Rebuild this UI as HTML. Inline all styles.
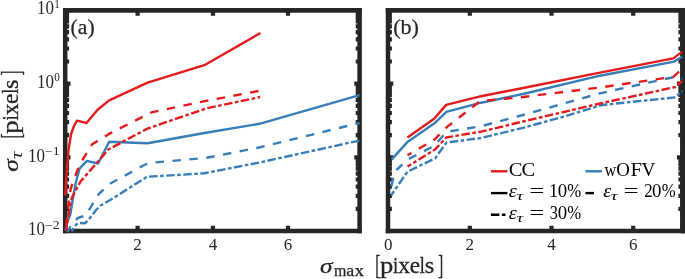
<!DOCTYPE html>
<html><head><meta charset="utf-8"><title>plot</title>
<style>html,body{margin:0;padding:0;background:#fff;overflow:hidden}svg{display:block;will-change:transform}text{font-family:"Liberation Serif",serif}</style>
</head><body>
<svg width="685" height="279" viewBox="0 0 685 279">
<rect width="685" height="279" fill="#fff"/>
<path d="M62.95 10.3H361.85" stroke="#262626" stroke-width="4.7" fill="none"/>
<path d="M62.95 231.0H361.85" stroke="#262626" stroke-width="4.4" fill="none"/>
<path d="M65.2 7.950000000000001V233.2M359.6 7.950000000000001V233.2" stroke="#262626" stroke-width="4.5" fill="none"/>
<path d="M137.6 231.0V225.7M137.6 10.0V15.8M213.0 231.0V225.7M213.0 10.0V15.8M288.0 231.0V225.7M288.0 10.0V15.8M65.2 10.00H70.5M359.6 10.00H354.3M65.2 83.67H70.5M359.6 83.67H354.3M65.2 157.33H70.5M359.6 157.33H354.3M65.2 231.00H70.5M359.6 231.00H354.3" stroke="#262626" stroke-width="4.2" fill="none"/>
<path d="M65.2 61.49H69.10000000000001M359.6 61.49H355.70000000000005M65.2 48.52H69.10000000000001M359.6 48.52H355.70000000000005M65.2 39.31H69.10000000000001M359.6 39.31H355.70000000000005M65.2 32.18H69.10000000000001M359.6 32.18H355.70000000000005M65.2 26.34H69.10000000000001M359.6 26.34H355.70000000000005M65.2 21.41H69.10000000000001M359.6 21.41H355.70000000000005M65.2 17.14H69.10000000000001M359.6 17.14H355.70000000000005M65.2 13.37H69.10000000000001M359.6 13.37H355.70000000000005M65.2 135.16H69.10000000000001M359.6 135.16H355.70000000000005M65.2 122.19H69.10000000000001M359.6 122.19H355.70000000000005M65.2 112.98H69.10000000000001M359.6 112.98H355.70000000000005M65.2 105.84H69.10000000000001M359.6 105.84H355.70000000000005M65.2 100.01H69.10000000000001M359.6 100.01H355.70000000000005M65.2 95.08H69.10000000000001M359.6 95.08H355.70000000000005M65.2 90.81H69.10000000000001M359.6 90.81H355.70000000000005M65.2 87.04H69.10000000000001M359.6 87.04H355.70000000000005M65.2 208.82H69.10000000000001M359.6 208.82H355.70000000000005M65.2 195.85H69.10000000000001M359.6 195.85H355.70000000000005M65.2 186.65H69.10000000000001M359.6 186.65H355.70000000000005M65.2 179.51H69.10000000000001M359.6 179.51H355.70000000000005M65.2 173.68H69.10000000000001M359.6 173.68H355.70000000000005M65.2 168.74H69.10000000000001M359.6 168.74H355.70000000000005M65.2 164.47H69.10000000000001M359.6 164.47H355.70000000000005M65.2 160.70H69.10000000000001M359.6 160.70H355.70000000000005" stroke="#262626" stroke-width="4.2" fill="none"/>
<path d="M385.75 10.3H684.55" stroke="#262626" stroke-width="4.7" fill="none"/>
<path d="M385.75 231.0H684.55" stroke="#262626" stroke-width="4.4" fill="none"/>
<path d="M388.0 7.950000000000001V233.2M682.3 7.950000000000001V233.2" stroke="#262626" stroke-width="4.5" fill="none"/>
<path d="M469.8 231.0V225.7M469.8 10.0V15.8M551.5 231.0V225.7M551.5 10.0V15.8M633.2 231.0V225.7M633.2 10.0V15.8M388.0 10.00H393.3M682.3 10.00H677.0M388.0 83.67H393.3M682.3 83.67H677.0M388.0 157.33H393.3M682.3 157.33H677.0M388.0 231.00H393.3M682.3 231.00H677.0" stroke="#262626" stroke-width="4.2" fill="none"/>
<path d="M388.0 61.49H391.9M682.3 61.49H678.4M388.0 48.52H391.9M682.3 48.52H678.4M388.0 39.31H391.9M682.3 39.31H678.4M388.0 32.18H391.9M682.3 32.18H678.4M388.0 26.34H391.9M682.3 26.34H678.4M388.0 21.41H391.9M682.3 21.41H678.4M388.0 17.14H391.9M682.3 17.14H678.4M388.0 13.37H391.9M682.3 13.37H678.4M388.0 135.16H391.9M682.3 135.16H678.4M388.0 122.19H391.9M682.3 122.19H678.4M388.0 112.98H391.9M682.3 112.98H678.4M388.0 105.84H391.9M682.3 105.84H678.4M388.0 100.01H391.9M682.3 100.01H678.4M388.0 95.08H391.9M682.3 95.08H678.4M388.0 90.81H391.9M682.3 90.81H678.4M388.0 87.04H391.9M682.3 87.04H678.4M388.0 208.82H391.9M682.3 208.82H678.4M388.0 195.85H391.9M682.3 195.85H678.4M388.0 186.65H391.9M682.3 186.65H678.4M388.0 179.51H391.9M682.3 179.51H678.4M388.0 173.68H391.9M682.3 173.68H678.4M388.0 168.74H391.9M682.3 168.74H678.4M388.0 164.47H391.9M682.3 164.47H678.4M388.0 160.70H391.9M682.3 160.70H678.4" stroke="#262626" stroke-width="4.2" fill="none"/>
<rect x="682" y="7.950000000000001" width="3" height="225.25" fill="#262626"/>
<path d="M65.5 231 L67.4 221.5 L70.3 214.5 L72.8 199 L74.4 190 L75.7 183 L79.7 168.3 L86.9 160.8 L98.1 163.5 L109.2 141.7 L147.5 143.3 L204.5 133.0 L259.4 123.8 L359.6 95.1" fill="none" stroke="#377eb8" stroke-width="2.4" stroke-linejoin="round"/>
<path d="M67.5 232 L72 223.2 L78 218 L85.7 215.3 L90.3 208 L94.1 201.6 L98.9 193.9 L109.5 184 L148 163 L206.7 157.8 L259 147.5 L359.6 123.0" fill="none" stroke="#377eb8" stroke-width="2.4" stroke-linejoin="round" stroke-dasharray="8.5 8.5" stroke-dashoffset="1.99"/>
<path d="M71.5 231.5 L76.4 224.4 L78.3 223 L85.1 223.3 L90.3 217.6 L96.1 210 L100.6 205.5 L110.2 200 L147 176.8 L204.2 173.3 L259.5 162.5 L359.6 140.5" fill="none" stroke="#377eb8" stroke-width="2.4" stroke-linejoin="round" stroke-dasharray="8.5 2.5 3.6 2.5" stroke-dashoffset="4.46"/>
<path d="M65.4 195.6 L65.8 185 L66.8 170 L68.5 150 L71.1 134.0 L74 125.8 L77 120.7 L86.5 123 L97.6 109.8 L109.2 100.4 L147.6 82.7 L204.3 65.2 L260.4 33.0" fill="none" stroke="#e41a1c" stroke-width="2.4" stroke-linejoin="round"/>
<path d="M65.5 231 L68.5 205 L70.6 189.5 L72.8 182.5 L79.4 165 L92.2 144.2 L110 133.4 L151.6 112.3 L204.7 101.2 L258.9 90.9" fill="none" stroke="#e41a1c" stroke-width="2.4" stroke-linejoin="round" stroke-dasharray="8.5 8.5" stroke-dashoffset="11.79"/>
<path d="M66 231 L70 205 L71.9 197.8 L75.7 190.4 L80.7 181.3 L95 165 L108.3 149.5 L147.5 128.6 L206.7 108.3 L260.1 97.0" fill="none" stroke="#e41a1c" stroke-width="2.4" stroke-linejoin="round" stroke-dasharray="8.5 2.5 3.6 2.5" stroke-dashoffset="2.95"/>
<path d="M391.8 159.4 L407.5 141.9 L434.1 123.6 L446.4 111.8 L481 102.7 L523 94.0 L600 75.7 L674.2 61.6 L682.3 56.6" fill="none" stroke="#377eb8" stroke-width="2.4" stroke-linejoin="round"/>
<path d="M391.5 186 L394.5 172 L407.5 159.5 L434.1 146 L446.4 131.9 L481.1 126.2 L523 115.0 L600 93.3 L673.3 77.2 L682.3 78.9" fill="none" stroke="#377eb8" stroke-width="2.4" stroke-linejoin="round" stroke-dasharray="8.5 8.5" stroke-dashoffset="0.12"/>
<path d="M391.2 195.2 L407.5 171.7 L435.1 158.4 L446.4 142.6 L481 138.0 L523 127.8 L565 116.3 L602 105.0 L675.4 97.4 L682.3 90.9" fill="none" stroke="#377eb8" stroke-width="2.4" stroke-linejoin="round" stroke-dasharray="8.5 2.5 3.6 2.5" stroke-dashoffset="3.51"/>
<path d="M407.5 137.4 L434.1 118.7 L446.2 104.9 L481.1 96.2 L523 88.0 L600 72.6 L673.3 58.4 L682.3 51.6" fill="none" stroke="#e41a1c" stroke-width="2.4" stroke-linejoin="round"/>
<path d="M407.5 155.3 L434.1 139.9 L447.4 126.6 L480.3 101 L523 97.0 L600 87.5 L673.3 76.8 L682.3 68.8" fill="none" stroke="#e41a1c" stroke-width="2.4" stroke-linejoin="round" stroke-dasharray="8.5 8.5" stroke-dashoffset="3.99"/>
<path d="M407.5 166.6 L435.1 149.4 L446.4 137.4 L481 131.7 L523 121.5 L600 103.5 L675.4 87 L682.3 81" fill="none" stroke="#e41a1c" stroke-width="2.4" stroke-linejoin="round" stroke-dasharray="8.5 2.5 3.6 2.5" stroke-dashoffset="4.16"/>
<text x="137.6" y="249.5" font-size="17" text-anchor="middle" fill="#262626">2</text>
<text x="213.0" y="249.5" font-size="17" text-anchor="middle" fill="#262626">4</text>
<text x="288.0" y="249.5" font-size="17" text-anchor="middle" fill="#262626">6</text>
<text x="388.2" y="249.5" font-size="17" text-anchor="middle" fill="#262626">0</text>
<text x="469.8" y="249.5" font-size="17" text-anchor="middle" fill="#262626">2</text>
<text x="551.5" y="249.5" font-size="17" text-anchor="middle" fill="#262626">4</text>
<text x="633.2" y="249.5" font-size="17" text-anchor="middle" fill="#262626">6</text>
<text x="37.0" y="14.3" font-size="18" text-anchor="start" fill="#262626" textLength="17" lengthAdjust="spacingAndGlyphs">10</text>
<text x="54.2" y="7.8" font-size="11.5" text-anchor="start" fill="#262626" textLength="5.6" lengthAdjust="spacingAndGlyphs">1</text>
<text x="37.0" y="87.96666666666667" font-size="18" text-anchor="start" fill="#262626" textLength="17" lengthAdjust="spacingAndGlyphs">10</text>
<text x="54.2" y="81.46666666666667" font-size="11.5" text-anchor="start" fill="#262626" textLength="5.6" lengthAdjust="spacingAndGlyphs">0</text>
<text x="27.9" y="161.63333333333335" font-size="18" text-anchor="start" fill="#262626" textLength="17" lengthAdjust="spacingAndGlyphs">10</text>
<text x="44.8" y="155.13333333333335" font-size="11.5" text-anchor="start" fill="#262626" textLength="14.8" lengthAdjust="spacingAndGlyphs">−1</text>
<text x="27.9" y="235.3" font-size="18" text-anchor="start" fill="#262626" textLength="17" lengthAdjust="spacingAndGlyphs">10</text>
<text x="44.8" y="228.8" font-size="11.5" text-anchor="start" fill="#262626" textLength="14.8" lengthAdjust="spacingAndGlyphs">−2</text>
<text x="70.6" y="34" font-size="22" text-anchor="start" fill="#262626" textLength="24" lengthAdjust="spacingAndGlyphs" stroke="#262626" stroke-width="0.25">(a)</text>
<text x="393.2" y="34" font-size="22" text-anchor="start" fill="#262626" textLength="25.8" lengthAdjust="spacingAndGlyphs" stroke="#262626" stroke-width="0.25">(b)</text>
<text x="320.14" y="272.5" font-size="22" fill="#262626" font-style="italic" stroke="#262626" stroke-width="0.25" textLength="12.55" lengthAdjust="spacingAndGlyphs">σ</text>
<text x="333.97" y="275.9" font-size="16" fill="#262626" stroke="#262626" stroke-width="0.25" textLength="12.38" lengthAdjust="spacingAndGlyphs">m</text><text x="346.17" y="275.9" font-size="16" fill="#262626" stroke="#262626" stroke-width="0.25" textLength="7.98" lengthAdjust="spacingAndGlyphs">a</text><text x="354.43" y="275.9" font-size="16" fill="#262626" stroke="#262626" stroke-width="0.25" textLength="9.60" lengthAdjust="spacingAndGlyphs">x</text>
<text x="379.97" y="272.5" font-size="23" fill="#262626" stroke="#262626" stroke-width="0.3" textLength="13.26" lengthAdjust="spacingAndGlyphs">p</text><text x="393.00" y="272.5" font-size="23" fill="#262626" stroke="#262626" stroke-width="0.3" textLength="5.26" lengthAdjust="spacingAndGlyphs">i</text><text x="398.39" y="272.5" font-size="23" fill="#262626" stroke="#262626" stroke-width="0.3" textLength="11.80" lengthAdjust="spacingAndGlyphs">x</text><text x="409.69" y="272.5" font-size="23" fill="#262626" stroke="#262626" stroke-width="0.3" textLength="10.31" lengthAdjust="spacingAndGlyphs">e</text><text x="419.74" y="272.5" font-size="23" fill="#262626" stroke="#262626" stroke-width="0.3" textLength="5.02" lengthAdjust="spacingAndGlyphs">l</text><text x="424.70" y="272.5" font-size="23" fill="#262626" stroke="#262626" stroke-width="0.3" textLength="9.48" lengthAdjust="spacingAndGlyphs">s</text>
<text x="375.17" y="274.2" font-size="27.5" fill="#262626" stroke="#262626" stroke-width="0.35" textLength="5.09" lengthAdjust="spacingAndGlyphs">[</text><text x="438.16" y="274.2" font-size="27.5" fill="#262626" stroke="#262626" stroke-width="0.35" textLength="4.94" lengthAdjust="spacingAndGlyphs">]</text>
<g transform="translate(18.4,171.2) rotate(-90)"><text x="-0.56" y="0" font-size="22" fill="#262626" font-style="italic" stroke="#262626" stroke-width="0.25" textLength="12.55" lengthAdjust="spacingAndGlyphs">σ</text><text x="12.13" y="3.3" font-size="16" fill="#262626" font-style="italic" textLength="7.62" lengthAdjust="spacingAndGlyphs">τ</text><text x="37.57" y="0" font-size="23" fill="#262626" stroke="#262626" stroke-width="0.3" textLength="13.26" lengthAdjust="spacingAndGlyphs">p</text><text x="50.60" y="0" font-size="23" fill="#262626" stroke="#262626" stroke-width="0.3" textLength="5.26" lengthAdjust="spacingAndGlyphs">i</text><text x="55.99" y="0" font-size="23" fill="#262626" stroke="#262626" stroke-width="0.3" textLength="11.80" lengthAdjust="spacingAndGlyphs">x</text><text x="67.29" y="0" font-size="23" fill="#262626" stroke="#262626" stroke-width="0.3" textLength="10.31" lengthAdjust="spacingAndGlyphs">e</text><text x="77.34" y="0" font-size="23" fill="#262626" stroke="#262626" stroke-width="0.3" textLength="5.02" lengthAdjust="spacingAndGlyphs">l</text><text x="82.30" y="0" font-size="23" fill="#262626" stroke="#262626" stroke-width="0.3" textLength="9.48" lengthAdjust="spacingAndGlyphs">s</text><text x="32.77" y="1.7" font-size="27.5" fill="#262626" stroke="#262626" stroke-width="0.35" textLength="5.09" lengthAdjust="spacingAndGlyphs">[</text><text x="95.76" y="1.7" font-size="27.5" fill="#262626" stroke="#262626" stroke-width="0.35" textLength="4.94" lengthAdjust="spacingAndGlyphs">]</text></g>
<path d="M490.9 171.3H507.4" stroke="#e41a1c" stroke-width="2.4" fill="none"/>
<text x="508.65" y="175.9" font-size="18.5" fill="#000" textLength="13.79" lengthAdjust="spacingAndGlyphs">C</text><text x="521.46" y="175.9" font-size="18.5" fill="#000" textLength="13.67" lengthAdjust="spacingAndGlyphs">C</text>
<path d="M585.5 171.3H602.0" stroke="#377eb8" stroke-width="2.4" fill="none"/>
<text x="604.48" y="175.9" font-size="18.5" fill="#000" textLength="11.79" lengthAdjust="spacingAndGlyphs">w</text><text x="616.32" y="175.9" font-size="18.5" fill="#000" textLength="13.65" lengthAdjust="spacingAndGlyphs">O</text><text x="630.40" y="175.9" font-size="18.5" fill="#000" textLength="11.55" lengthAdjust="spacingAndGlyphs">F</text><text x="641.48" y="175.9" font-size="18.5" fill="#000" textLength="13.93" lengthAdjust="spacingAndGlyphs">V</text>
<path d="M490.9 193.1H507.4" stroke="#000" stroke-width="2.4" fill="none"/>
<text x="508.77" y="197.4" font-size="18.5" fill="#000" font-style="italic" textLength="7.95" lengthAdjust="spacingAndGlyphs">ε</text><text x="516.49" y="200.4" font-size="13.5" fill="#000" font-style="italic" textLength="6.74" lengthAdjust="spacingAndGlyphs">τ</text><text x="529.16" y="197.4" font-size="18.5" fill="#000" textLength="15.15" lengthAdjust="spacingAndGlyphs">=</text><text x="548.83" y="197.4" font-size="18.5" fill="#000" textLength="9.52" lengthAdjust="spacingAndGlyphs">1</text><text x="557.68" y="197.4" font-size="18.5" fill="#000" textLength="9.44" lengthAdjust="spacingAndGlyphs">0</text><text x="567.23" y="197.4" font-size="18.5" fill="#000" textLength="13.94" lengthAdjust="spacingAndGlyphs">%</text>
<path d="M585.5 193.1H602.0" stroke="#000" stroke-width="2.4" fill="none" stroke-dasharray="8.5 8.5"/>
<text x="603.17" y="197.4" font-size="18.5" fill="#000" font-style="italic" textLength="7.95" lengthAdjust="spacingAndGlyphs">ε</text><text x="610.89" y="200.4" font-size="13.5" fill="#000" font-style="italic" textLength="6.74" lengthAdjust="spacingAndGlyphs">τ</text><text x="623.56" y="197.4" font-size="18.5" fill="#000" textLength="15.15" lengthAdjust="spacingAndGlyphs">=</text><text x="644.17" y="197.4" font-size="18.5" fill="#000" textLength="8.36" lengthAdjust="spacingAndGlyphs">2</text><text x="652.08" y="197.4" font-size="18.5" fill="#000" textLength="9.44" lengthAdjust="spacingAndGlyphs">0</text><text x="661.63" y="197.4" font-size="18.5" fill="#000" textLength="13.94" lengthAdjust="spacingAndGlyphs">%</text>
<path d="M490.9 214.7H507.4" stroke="#000" stroke-width="2.4" fill="none" stroke-dasharray="8.5 2.5 3.6 2.5"/>
<text x="508.77" y="219.0" font-size="18.5" fill="#000" font-style="italic" textLength="7.95" lengthAdjust="spacingAndGlyphs">ε</text><text x="516.49" y="222.0" font-size="13.5" fill="#000" font-style="italic" textLength="6.74" lengthAdjust="spacingAndGlyphs">τ</text><text x="529.16" y="219.0" font-size="18.5" fill="#000" textLength="15.15" lengthAdjust="spacingAndGlyphs">=</text><text x="549.72" y="219.0" font-size="18.5" fill="#000" textLength="8.11" lengthAdjust="spacingAndGlyphs">3</text><text x="557.68" y="219.0" font-size="18.5" fill="#000" textLength="9.44" lengthAdjust="spacingAndGlyphs">0</text><text x="567.23" y="219.0" font-size="18.5" fill="#000" textLength="13.94" lengthAdjust="spacingAndGlyphs">%</text>
</svg>
</body></html>
